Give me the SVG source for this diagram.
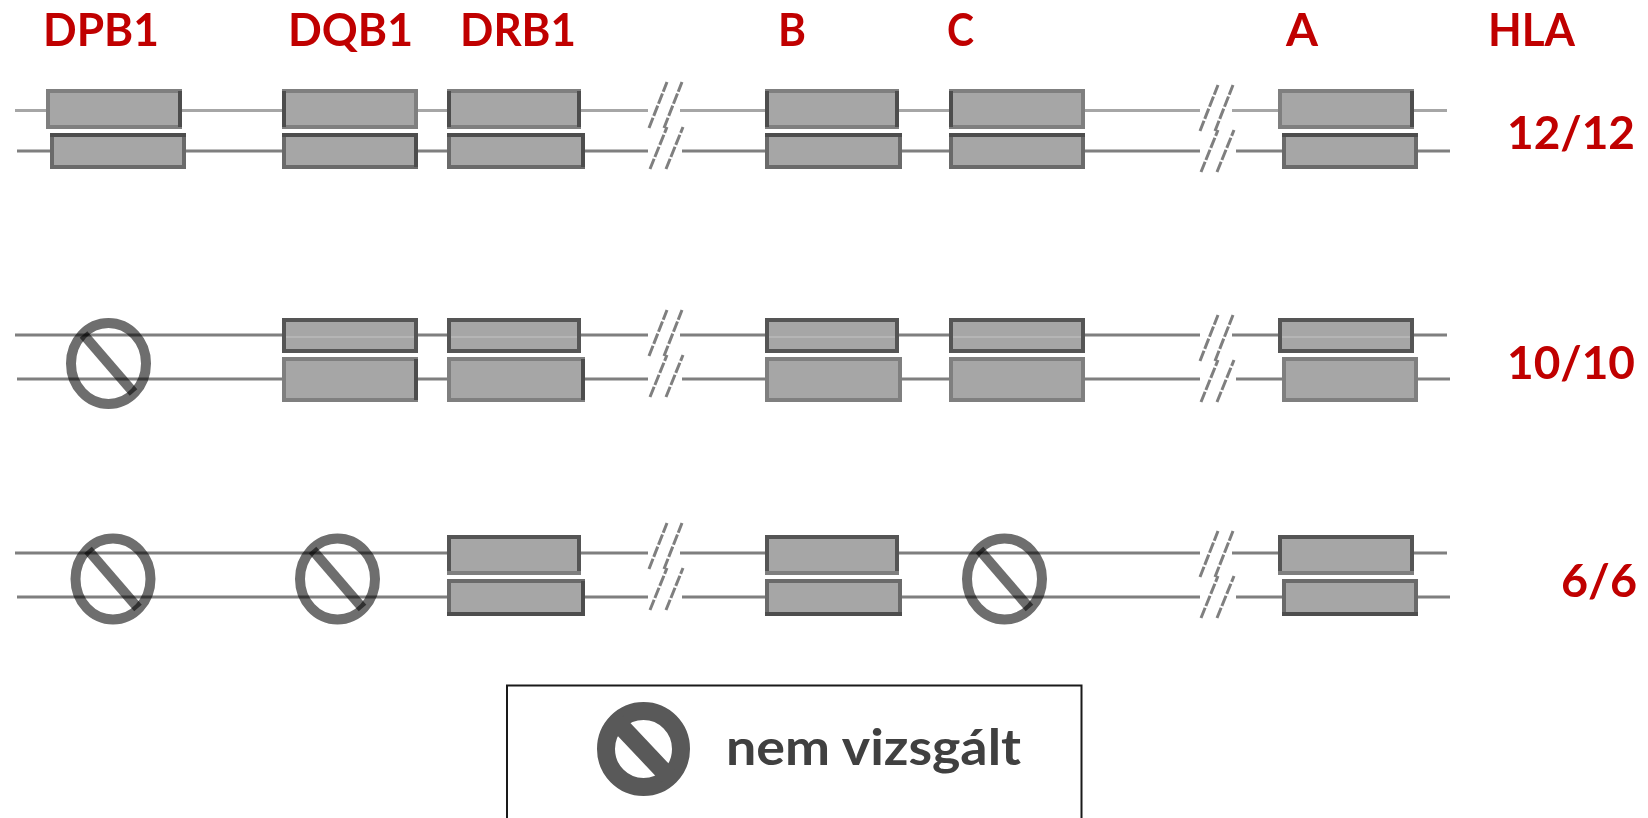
<svg xmlns="http://www.w3.org/2000/svg" width="1648" height="818" viewBox="0 0 1648 818">
<style>
.l{font-family:"Lato","Carlito","Liberation Sans",sans-serif;font-weight:700;font-size:46px;fill:#c00000}
.lg{font-family:"Lato","Carlito","Liberation Sans",sans-serif;font-weight:700;font-size:50px;fill:#404040}
.c{fill:none;stroke-width:3}
.c1{stroke:#a6a6a6}
.c2{stroke:#7f7f7f}
.s{fill:none;stroke:#7f7f7f;stroke-width:3;stroke-dasharray:11 2}
.b{fill:#a6a6a6;stroke-width:4}
.m{stroke:#7f7f7f}
.k{stroke:#6a6a6a}
.d{stroke:#555}
.e{fill:none;stroke:#4d4d4d;stroke-width:4}
.h{fill:none;stroke:#c4c4c4;stroke-width:1}
.r{fill:none;stroke:#6e6e6e;stroke-width:10;mix-blend-mode:multiply}
</style>
<defs>
<g id="np"><ellipse class="r" cx="0" cy="0" rx="37.5" ry="40.5"/><path class="r" d="M-25 -29L25 29"/></g>
<g id="br1"><path class="s" d="M649 128L667 82M664 128L682 82M650 169L667 127M666 169L683 127"/></g>
</defs>
<g id="connectors">
<path class="c c1" d="M15 110.500H648M680 110.500H1200M1232 110.500H1447"/>
<path class="c c2" d="M17 151H648M682 151H1200M1236 151H1450"/>
<path class="c c2" d="M15 335H648M680 335H1200M1232 335H1447"/>
<path class="c c2" d="M17 379H648M682 379H1200M1236 379H1450"/>
<path class="c c2" d="M15 553H648M680 553H1200M1232 553H1447"/>
<path class="c c2" d="M17 597H648M682 597H1200M1236 597H1450"/>
</g>
<g id="breaks">
<use href="#br1"/>
<use href="#br1" x="551" y="3"/>
<use href="#br1" y="228"/>
<use href="#br1" x="551" y="233"/>
<use href="#br1" y="441"/>
<use href="#br1" x="551" y="449"/>
</g>
<g id="headers">
<text class="l" x="43" y="46" textLength="116" lengthAdjust="spacingAndGlyphs">DPB1</text>
<text class="l" x="288" y="46" textLength="125" lengthAdjust="spacingAndGlyphs">DQB1</text>
<text class="l" x="460" y="46" textLength="116" lengthAdjust="spacingAndGlyphs">DRB1</text>
<text class="l" x="778" y="46" textLength="28" lengthAdjust="spacingAndGlyphs">B</text>
<text class="l" x="947" y="46" textLength="27" lengthAdjust="spacingAndGlyphs">C</text>
<text class="l" x="1286" y="46" textLength="32" lengthAdjust="spacingAndGlyphs">A</text>
<text class="l" x="1488" y="46" textLength="87" lengthAdjust="spacingAndGlyphs">HLA</text>
<text class="l" x="1507" y="149" textLength="128" lengthAdjust="spacingAndGlyphs">12/12</text>
<text class="l" x="1507" y="379" textLength="128" lengthAdjust="spacingAndGlyphs">10/10</text>
<text class="l" x="1561" y="597" textLength="76" lengthAdjust="spacingAndGlyphs">6/6</text>
</g>
<g id="row1">
<g id="r1-dpb-a"><rect class="b m" x="48" y="91" width="132" height="36"/><path class="e" d="M180 91V127"/></g>
<g id="r1-dpb-b"><rect class="b k" x="52" y="135" width="132" height="32"/><path class="e" d="M50 135H186"/></g>
<g id="r1-dqb-a"><rect class="b m" x="284" y="91" width="132" height="36"/><path class="e" d="M284 91V127"/></g>
<g id="r1-dqb-b"><rect class="b k" x="284" y="135" width="132" height="32"/><path class="e" d="M282 135H418M416 135V167"/></g>
<g id="r1-drb-a"><rect class="b m" x="449" y="91" width="130" height="36"/><path class="e" d="M449 91V127M579 91V127"/></g>
<g id="r1-drb-b"><rect class="b k" x="449" y="135" width="134" height="32"/><path class="e" d="M447 135H585M583 135V167"/></g>
<g id="r1-b-a"><rect class="b m" x="767" y="91" width="130" height="36"/><path class="e" d="M767 91V127M897 91V127"/></g>
<g id="r1-b-b"><rect class="b k" x="767" y="135" width="133" height="32"/><path class="e" d="M765 135H902"/></g>
<g id="r1-c-a"><rect class="b m" x="951" y="91" width="132" height="36"/><path class="e" d="M951 91V127"/></g>
<g id="r1-c-b"><rect class="b k" x="951" y="135" width="132" height="32"/><path class="e" d="M949 135H1085"/></g>
<g id="r1-a-a"><rect class="b m" x="1280" y="91" width="132" height="36"/><path class="e" d="M1412 91V127"/></g>
<g id="r1-a-b"><rect class="b k" x="1284" y="135" width="132" height="32"/><path class="e" d="M1282 135H1418"/></g>
</g>
<g id="row2">
<use id="r2-dpb" href="#np" x="108.500" y="363.500"/>
<g id="r2-dqb-a"><rect class="b d" x="284" y="320" width="132" height="31"/><path class="h" d="M286 337H414"/></g>
<g id="r2-dqb-b"><rect class="b m" x="284" y="359" width="132" height="41"/><path class="e" d="M416 359V400"/></g>
<g id="r2-drb-a"><rect class="b d" x="449" y="320" width="130" height="31"/><path class="h" d="M451 337H577"/></g>
<g id="r2-drb-b"><rect class="b m" x="449" y="359" width="134" height="41"/><path class="e" d="M583 359V400"/></g>
<g id="r2-b-a"><rect class="b d" x="767" y="320" width="130" height="31"/><path class="h" d="M769 337H895"/></g>
<g id="r2-b-b"><rect class="b m" x="767" y="359" width="133" height="41"/></g>
<g id="r2-c-a"><rect class="b d" x="951" y="320" width="132" height="31"/><path class="h" d="M953 337H1081"/></g>
<g id="r2-c-b"><rect class="b m" x="951" y="359" width="132" height="41"/></g>
<g id="r2-a-a"><rect class="b d" x="1280" y="320" width="132" height="31"/><path class="h" d="M1282 337H1410"/></g>
<g id="r2-a-b"><rect class="b m" x="1284" y="359" width="132" height="41"/></g>
</g>
<g id="row3">
<use id="r3-dpb" href="#np" x="113" y="579"/>
<use id="r3-dqb" href="#np" x="337.500" y="579"/>
<use id="r3-c" href="#np" x="1004.500" y="579"/>
<g id="r3-drb-a"><rect class="b d" x="449" y="537" width="130" height="36"/><path fill="none" stroke="#7f7f7f" stroke-width="4" d="M447 573H581"/></g>
<g id="r3-drb-b"><rect class="b k" x="449" y="581" width="134" height="33"/><path class="e" d="M447 614H585M583 581V614"/></g>
<g id="r3-b-a"><rect class="b d" x="767" y="537" width="130" height="36"/><path fill="none" stroke="#7f7f7f" stroke-width="4" d="M765 573H899"/></g>
<g id="r3-b-b"><rect class="b k" x="767" y="581" width="133" height="33"/><path class="e" d="M765 614H902"/></g>
<g id="r3-a-a"><rect class="b d" x="1280" y="537" width="132" height="36"/><path fill="none" stroke="#7f7f7f" stroke-width="4" d="M1278 573H1414"/></g>
<g id="r3-a-b"><rect class="b k" x="1284" y="581" width="132" height="33"/><path class="e" d="M1282 614H1418"/></g>
</g>
<g id="legend">
<path fill="none" stroke="#1a1a1a" stroke-width="2" d="M507 818V685.500H1081.500V818"/>
<ellipse cx="643.500" cy="749" rx="37.500" ry="38" fill="none" stroke="#595959" stroke-width="18"/>
<path stroke="#595959" stroke-width="18" fill="none" d="M617 722L668 776"/>
<text class="lg" x="726" y="765" textLength="295" lengthAdjust="spacingAndGlyphs">nem vizsgált</text>
</g>
</svg>
